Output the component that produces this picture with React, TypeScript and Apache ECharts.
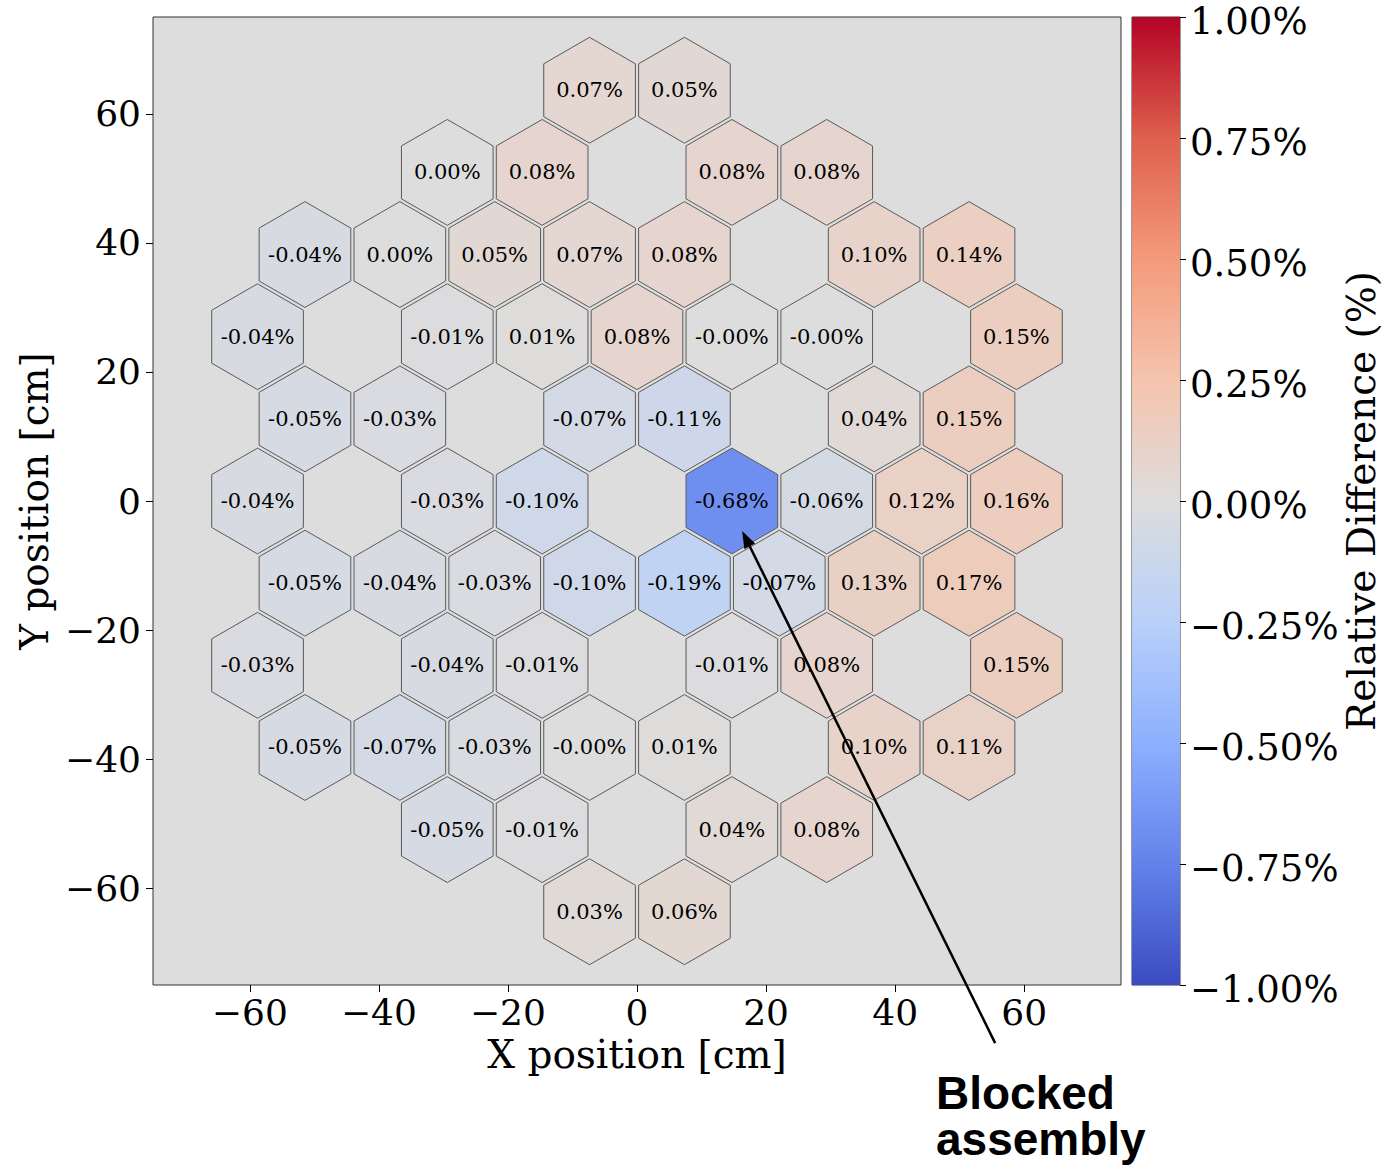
import React, { useEffect, useRef } from "react";
import * as echarts from "echarts";

// ---- data ----
const rowY = [63.65, 50.92, 38.19, 25.46, 12.73, 0, -12.73, -25.46, -38.19, -50.92, -63.65];
const rowX = [
  [-7.35, 7.35],
  [-29.4, -14.7, 14.7, 29.4],
  [-51.45, -36.75, -22.05, -7.35, 7.35, 36.75, 51.45],
  [-58.8, -29.4, -14.7, 0, 14.7, 29.4, 58.8],
  [-51.45, -36.75, -7.35, 7.35, 36.75, 51.45],
  [-58.8, -29.4, -14.7, 14.7, 29.4, 44.1, 58.8],
  [-51.45, -36.75, -22.05, -7.35, 7.35, 22.05, 36.75, 51.45],
  [-58.8, -29.4, -14.7, 14.7, 29.4, 58.8],
  [-51.45, -36.75, -22.05, -7.35, 7.35, 36.75, 51.45],
  [-29.4, -14.7, 14.7, 29.4],
  [-7.35, 7.35],
];
const rowValues = [
  [0.07, 0.05],
  [0.0, 0.08, 0.08, 0.08],
  [-0.04, 0.0, 0.05, 0.07, 0.08, 0.1, 0.14],
  [-0.04, -0.01, 0.01, 0.08, -0.002, -0.002, 0.15],
  [-0.05, -0.03, -0.07, -0.11, 0.04, 0.15],
  [-0.04, -0.03, -0.1, -0.68, -0.06, 0.12, 0.16],
  [-0.05, -0.04, -0.03, -0.1, -0.19, -0.07, 0.13, 0.17],
  [-0.03, -0.04, -0.01, -0.01, 0.08, 0.15],
  [-0.05, -0.07, -0.03, -0.002, 0.01, 0.1, 0.11],
  [-0.05, -0.01, 0.04, 0.08],
  [0.03, 0.06],
];
const axisTicks = [-60, -40, -20, 0, 20, 40, 60];
const colorRange = [-1, 1];
const coolwarmStops = [
  "#3b4cc0", "#6282ea", "#8db0fe", "#b8d0f9", "#dddddd",
  "#f5c4ad", "#f49a7b", "#de604d", "#b40426",
];
// annotation: [tailX, tailY, tipX, tipY] in cm
const arrowData = [[55.5, -84.0, 16.3, -4.65]];
const annotationText = "Blocked\nassembly";

// ---- style constants ----
const HEX_R = 8.2;
const SERIF = '"DejaVu Serif", serif';

function minusFmt(v: number) {
  return v < 0 ? "\u2212" + Math.abs(v) : String(v);
}

export default function App() {
  const ref = useRef<HTMLDivElement>(null);
  useEffect(() => {
    if (!ref.current) return;
    const chart = echarts.init(ref.current, undefined, { renderer: "svg" });

    const hexData: number[][] = [];
    rowY.forEach((y, i) => {
      rowX[i].forEach((x, j) => hexData.push([x, y, rowValues[i][j]]));
    });

    const option: any = {
      animation: false,
      backgroundColor: "#ffffff",
      grid: [
        { left: 153, top: 17, width: 968, height: 968, show: true, backgroundColor: "#dddddd", borderColor: "#333", borderWidth: 1 },
        { left: 1132, top: 17, width: 48, height: 968, show: true, backgroundColor: "transparent", borderColor: "#333", borderWidth: 1 },
      ],
      visualMap: [
        {
          show: false,
          type: "continuous",
          seriesIndex: 0,
          dimension: 2,
          min: colorRange[0],
          max: colorRange[1],
          inRange: { color: coolwarmStops },
        },
      ],
      xAxis: [
        {
          type: "value",
          gridIndex: 0,
          min: -75,
          max: 75,
          name: "X position [cm]",
          nameLocation: "middle",
          nameGap: 42,
          nameTextStyle: { fontFamily: SERIF, fontSize: 39, color: "#000" },
          axisLine: { show: false, onZero: false },
          splitLine: { show: false },
          axisTick: { show: true, length: 7, customValues: axisTicks, lineStyle: { color: "#000", width: 1 } },
          axisLabel: { customValues: axisTicks, formatter: minusFmt, fontFamily: SERIF, fontSize: 36, color: "#000", margin: 9 },
        },
        { type: "value", gridIndex: 1, min: 0, max: 1, show: false },
      ],
      yAxis: [
        {
          type: "value",
          gridIndex: 0,
          min: -75,
          max: 75,
          name: "Y position [cm]",
          nameLocation: "middle",
          nameGap: 90,
          nameRotate: 90,
          nameTextStyle: { fontFamily: SERIF, fontSize: 39, color: "#000" },
          axisLine: { show: false, onZero: false },
          splitLine: { show: false },
          axisTick: { show: true, length: 7, customValues: axisTicks, lineStyle: { color: "#000", width: 1 } },
          axisLabel: { customValues: axisTicks, formatter: minusFmt, fontFamily: SERIF, fontSize: 36, color: "#000", margin: 12 },
        },
        {
          type: "value",
          gridIndex: 1,
          position: "right",
          min: colorRange[0],
          max: colorRange[1],
          interval: 0.25,
          name: "Relative Difference (%)",
          nameLocation: "middle",
          nameGap: 160,
          nameRotate: 90,
          nameTextStyle: { fontFamily: SERIF, fontSize: 39, color: "#000" },
          axisLine: { show: false, onZero: false },
          splitLine: { show: false },
          axisTick: { show: true, length: 6, lineStyle: { color: "#000", width: 1 } },
          axisLabel: {
            fontFamily: SERIF,
            fontSize: 37,
            color: "#000",
            margin: 10,
            verticalAlign: "top",
            lineHeight: 9,
            formatter: (v: number) => (v < 0 ? "\u2212" : "") + Math.abs(v).toFixed(2) + "%",
          },
        },
      ],
      series: [
        {
          type: "custom",
          xAxisIndex: 0,
          yAxisIndex: 0,
          data: hexData,
          renderItem: (params: any, api: any) => {
            const c = api.coord([api.value(0), api.value(1)]);
            const r = api.size([HEX_R, 0])[0];
            const pts: number[][] = [];
            for (let k = 0; k < 6; k++) {
              const a = Math.PI / 6 + (k * Math.PI) / 3;
              pts.push([c[0] + r * Math.cos(a), c[1] - r * Math.sin(a)]);
            }
            const v = api.value(2);
            return {
              type: "group",
              children: [
                { type: "polygon", shape: { points: pts }, style: { fill: api.visual("color"), stroke: "#5a5a5a", lineWidth: 1 } },
                {
                  type: "text",
                  x: c[0],
                  y: c[1],
                  style: { text: v.toFixed(2) + "%", fill: "#000", font: '21px "DejaVu Serif"', align: "center", verticalAlign: "middle" },
                },
              ],
            };
          },
        },
        {
          type: "custom",
          xAxisIndex: 1,
          yAxisIndex: 1,
          data: [[0, colorRange[0], 1, colorRange[1]]],
          renderItem: (params: any, api: any) => {
            const p0 = api.coord([api.value(0), api.value(3)]);
            const p1 = api.coord([api.value(2), api.value(1)]);
            return {
              type: "rect",
              shape: { x: p0[0], y: p0[1], width: p1[0] - p0[0], height: p1[1] - p0[1] },
              style: {
                fill: {
                  type: "linear",
                  x: 0, y: 1, x2: 0, y2: 0,
                  colorStops: coolwarmStops.map((c, i) => ({ offset: i / (coolwarmStops.length - 1), color: c })),
                },
              },
            };
          },
        },
        {
          type: "custom",
          xAxisIndex: 0,
          yAxisIndex: 0,
          clip: false,
          z: 10,
          data: arrowData,
          renderItem: (params: any, api: any) => {
            const t = api.coord([api.value(0), api.value(1)]);
            const h = api.coord([api.value(2), api.value(3)]);
            const dx = h[0] - t[0];
            const dy = h[1] - t[1];
            const len = Math.sqrt(dx * dx + dy * dy);
            const ux = dx / len;
            const uy = dy / len;
            const hl = 17;
            const hw = 6;
            const bx = h[0] - ux * hl;
            const by = h[1] - uy * hl;
            return {
              type: "group",
              children: [
                { type: "line", shape: { x1: t[0], y1: t[1], x2: bx + ux * 2, y2: by + uy * 2 }, style: { stroke: "#000", lineWidth: 2.5 } },
                {
                  type: "polygon",
                  shape: { points: [[h[0], h[1]], [bx - uy * hw, by + ux * hw], [bx + uy * hw, by - ux * hw]] },
                  style: { fill: "#000" },
                },
              ],
            };
          },
        },
      ],
      graphic: [
        {
          type: "text",
          left: 936,
          top: 1070,
          style: {
            text: annotationText,
            font: 'bold 46px "Liberation Sans", Arial, sans-serif',
            lineHeight: 46,
            fill: "#000",
            align: "left",
          },
        },
      ],
    };
    chart.setOption(option);
    return () => chart.dispose();
  }, []);
  return <div ref={ref} style={{ position: "fixed", left: 0, top: 0, width: 1398, height: 1174 }} />;
}
